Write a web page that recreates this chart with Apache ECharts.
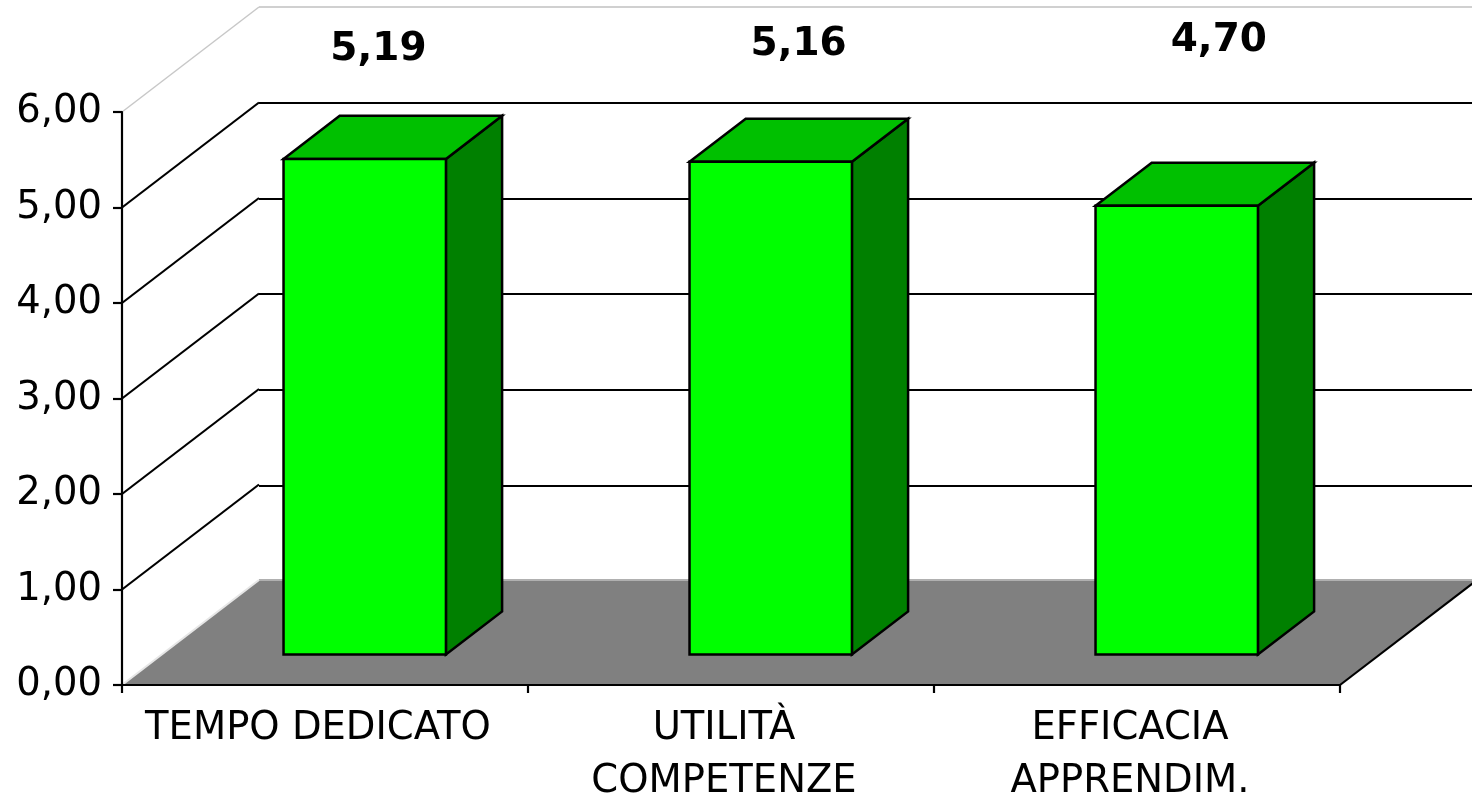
<!DOCTYPE html>
<html>
<head>
<meta charset="utf-8">
<script src="https://cdn.jsdelivr.net/npm/echarts@6/dist/echarts.min.js"></script>
<style>
html,body{margin:0;padding:0;background:#fff;overflow:hidden;}
#chart{width:1472px;height:801px;}
</style>
</head>
<body>
<div id="chart"></div>
<script>
const categories = ['TEMPO DEDICATO', 'UTILITÀ\nCOMPETENZE', 'EFFICACIA\nAPPRENDIM.'];
const values = [5.19, 5.16, 4.70];
const yMin = 0, yMax = 6, yStep = 1;

const FONT = '"DejaVu Sans", Verdana, sans-serif';
const DX = 137, DY = -105;          // depth offset of the 3D box
const F0 = 0.29, F1 = 0.70;         // bar depth placement (fraction)
const BARW = 0.4;                   // bar width fraction of band
const fmt = v => v.toFixed(2).replace('.', ',');

const chart = echarts.init(document.getElementById('chart'));

function floorItem(params, api) {
  const cs = params.coordSys;
  const x0 = cs.x, x1 = cs.x + cs.width, yb = cs.y + cs.height;
  const children = [];
  children.push({type:'polygon', shape:{points:[[x0,yb],[x1,yb],[x1+DX,yb+DY],[x0+DX,yb+DY]]},
    style:{fill:'#808080', stroke:null}});
  children.push({type:'line', shape:{x1:x0+DX, y1:yb+DY, x2:x1+DX, y2:yb+DY}, style:{stroke:'#b0b0b0', lineWidth:2}});
  children.push({type:'line', shape:{x1:x0, y1:yb, x2:x0+DX, y2:yb+DY}, style:{stroke:'#e6e6e6', lineWidth:2}});
  children.push({type:'line', shape:{x1:x1, y1:yb, x2:x1+DX, y2:yb+DY}, style:{stroke:'#000', lineWidth:2.2}});
  for (let v = yMin + yStep; v <= yMax + 1e-9; v += yStep) {
    const y = api.coord([0, v])[1];
    const top = Math.abs(v - yMax) < 1e-9;
    children.push({type:'line', shape:{x1:x0, y1:y, x2:x0+DX, y2:y+DY},
      style:{stroke: top ? '#c8c8c8' : '#000', lineWidth: top ? 1.5 : 2.2}});
  }
  return {type:'group', children};
}

function barItem(params, api) {
  const cs = params.coordSys;
  const idx = api.value(0), val = api.value(1);
  const top = api.coord([idx, val]);
  const base = api.coord([idx, 0]);
  const band = api.size([1, 0])[0];
  const w = band * BARW;
  const x0 = top[0] - w/2 + F0*DX, x1 = x0 + w;
  const yt = top[1] + F0*DY, yb = base[1] + F0*DY;
  const ddx = (F1-F0)*DX, ddy = (F1-F0)*DY;
  const st = {stroke:'#000', lineWidth:2.5, lineJoin:'miter'};
  const rel = top[0] - cs.x;
  return {type:'group', children:[
    {type:'polygon', shape:{points:[[x1,yt],[x1+ddx,yt+ddy],[x1+ddx,yb+ddy],[x1,yb]]}, style:Object.assign({fill:'#008000'}, st)},
    {type:'polygon', shape:{points:[[x0,yt],[x1,yt],[x1+ddx,yt+ddy],[x0+ddx,yt+ddy]]}, style:Object.assign({fill:'#00C000'}, st)},
    {type:'polygon', shape:{points:[[x0,yt],[x1,yt],[x1,yb],[x0,yb]]}, style:Object.assign({fill:'#00FF00'}, st)},
    {type:'text', style:{text: fmt(val), x: top[0] + 0.338*DX + 0.035*rel, y: cs.y - 60 - 0.011*rel,
      align:'center', verticalAlign:'middle', fontFamily: FONT, fontWeight:'bold', fontSize:39, fill:'#000'}}
  ]};
}

const option = {
  backgroundColor: '#fff',
  animation: false,
  grid: [
    {left:122, top:112, width:1218, height:574},
    {left:122+DX, top:112+DY, width:1218, height:574}
  ],
  xAxis: [
    {type:'category', gridIndex:0, data:categories, boundaryGap:true, z:10,
     axisLine:{show:true, lineStyle:{color:'#000', width:2.2}},
     axisTick:{show:true, interval:0, length:8, lineStyle:{color:'#000', width:2.2}},
     axisLabel:{interval:0, color:'#000', fontFamily:FONT, fontSize:38.5, lineHeight:53, margin:17,
       padding:[0,14,-14,0]}},
    {type:'category', gridIndex:1, data:categories, show:false}
  ],
  yAxis: [
    {type:'value', gridIndex:0, min:yMin, max:yMax, interval:yStep, z:10,
     axisLine:{show:true, lineStyle:{color:'#000', width:2.2}},
     axisTick:{show:true, length:9, lineStyle:{color:'#000', width:2.2}},
     splitLine:{show:false},
     axisLabel:{color:'#000', fontFamily:FONT, fontSize:38.5, margin:20, formatter: v => fmt(v)}},
    {type:'value', gridIndex:1, min:yMin, max:yMax, interval:yStep,
     axisLine:{show:false}, axisTick:{show:false}, axisLabel:{show:false},
     splitLine:{show:true, lineStyle:{color:['#b0b0b0','#000','#000','#000','#000','#000','#d0d0d0'], width:2.2}}}
  ],
  series: [
    {type:'custom', xAxisIndex:0, yAxisIndex:0, z:1, clip:false, silent:true,
     renderItem: floorItem, data:[[0,0]]},
    {type:'custom', xAxisIndex:0, yAxisIndex:0, z:3, clip:false, silent:true,
     renderItem: barItem, data: values.map((v,i) => [i, v])}
  ]
};
chart.setOption(option);
</script>
</body>
</html>
